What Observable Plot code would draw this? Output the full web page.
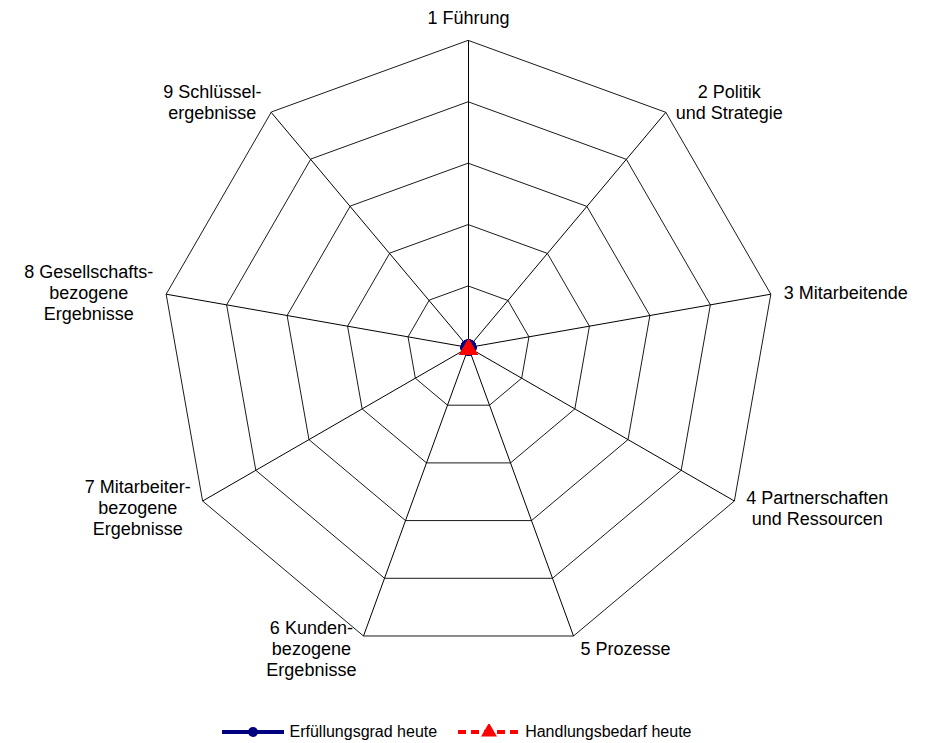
<!DOCTYPE html>
<html>
<head>
<meta charset="utf-8">
<script src="https://cdn.jsdelivr.net/npm/d3@7"></script>
<script src="https://cdn.jsdelivr.net/npm/@observablehq/plot@0.6"></script>
<style>
  html, body { margin: 0; padding: 0; background: #fff; }
  #chart svg { display: block; }
  .legend { display: flex; justify-content: center; align-items: center; height: 24px; margin-top: 8px; padding-right: 18px;
    font-family: "Liberation Sans", Arial, sans-serif; font-size: 16px; color: #000; }
  .legend .item { display: flex; align-items: center; }
  .legend svg { display: block; }
</style>
</head>
<body>
<div id="chart"></div>
<div class="legend" id="legend"></div>
<script>
// ---- data ----
const categories = [
  "1 Führung",
  "2 Politik\nund Strategie",
  "3 Mitarbeitende",
  "4 Partnerschaften\nund Ressourcen",
  "5 Prozesse",
  "6 Kunden-\nbezogene\nErgebnisse",
  "7 Mitarbeiter-\nbezogene\nErgebnisse",
  "8 Gesellschafts-\nbezogene\nErgebnisse",
  "9 Schlüssel-\nergebnisse"
];
const erfuellungsgrad = [0, 0, 0, 0, 0, 0, 0, 0, 0];
const handlungsbedarf = [0, 0, 0, 0, 0, 0, 0, 0, 0];
const ringLevels = [1, 2, 3, 4, 5];
const seriesNames = ["Erfüllungsgrad heute", "Handlungsbedarf heute"];

// ---- layout ----
const W = 932, H = 712;
const maxR = 5;
const cx = 468, cy = 347, R = 307;
const FONT = "'Liberation Sans', Arial, sans-serif";
const FS = 18;
const n = categories.length;
const angle = i => (2 * Math.PI * i) / n;
const pt = (r, i) => ({ x: r * Math.sin(angle(i)), y: r * Math.cos(angle(i)) });

const ringData = ringLevels.flatMap(lv => categories.map((c, i) => ({ ring: lv, ...pt(lv, i) })));
const spokeData = categories.map((c, i) => ({ x1: 0, y1: 0, x2: pt(maxR, i).x, y2: pt(maxR, i).y }));
const s1 = erfuellungsgrad.map((v, i) => ({ ...pt(v, i) }));
const s2 = handlungsbedarf.map((v, i) => ({ ...pt(v, i) }));

// text measuring
const ctx = document.createElement("canvas").getContext("2d");
ctx.font = `${FS}px ${FONT}`;
const blockWidth = s => Math.max(...s.split("\n").map(l => ctx.measureText(l).width));

const labelMarks = categories.map((c, i) => {
  const a = angle(i), sn = Math.sin(a), cs = Math.cos(a);
  const v = pt(maxR, i);
  const w = blockWidth(c);
  let dx, dy;
  if (Math.abs(sn) < 0.1) {
    dx = 0; dy = -23;
  } else {
    const gap = 4 + 9 * Math.abs(sn);
    dx = Math.sign(sn) * (gap + w / 2);
    dy = -13.5 * cs;
  }
  return Plot.text([{ x: v.x, y: v.y, t: c }], {
    x: "x", y: "y", text: "t", dx, dy,
    textAnchor: "middle", lineAnchor: "middle", lineHeight: 21 / FS,
    fontSize: FS, fontFamily: FONT, fill: "#000"
  });
});

const plot = Plot.plot({
  width: W, height: H,
  margin: 0,
  x: { domain: [-maxR, maxR], range: [cx - R, cx + R], axis: null },
  y: { domain: [-maxR, maxR], range: [cy + R, cy - R], axis: null },
  style: { fontFamily: FONT, background: "#fff" },
  marks: [
    Plot.line(ringData, { x: "x", y: "y", z: "ring", curve: "linear-closed", stroke: "#1a1a1a", strokeWidth: 1 }),
    Plot.link(spokeData, { x1: "x1", y1: "y1", x2: "x2", y2: "y2", stroke: "#000", strokeWidth: 1 }),
    Plot.line(s1, { x: "x", y: "y", curve: "linear-closed", stroke: "#000080", strokeWidth: 4 }),
    Plot.dot(s1, { x: "x", y: "y", r: 8, symbol: "circle", fill: "#000080", stroke: "none" }),
    Plot.line(s2, { x: "x", y: "y", curve: "linear-closed", stroke: "#ff0000", strokeWidth: 4, strokeDasharray: "8,5" }),
    Plot.dot(s2, { x: "x", y: "y", r: 6.8, symbol: "triangle", fill: "#ff0000", stroke: "none", dy: 2 }),
    ...labelMarks
  ]
});
document.getElementById("chart").appendChild(plot);

// ---- legend ----
const legend = d3.select("#legend");
const styles = [
  { color: "#000080", dash: null, symbol: d3.symbolCircle, size: Math.PI * 25, gapAfter: 21 },
  { color: "#ff0000", dash: "8,5", symbol: d3.symbolTriangle, size: 110, gapAfter: 0 }
];
seriesNames.forEach((name, k) => {
  const st = styles[k];
  const item = legend.append("div").attr("class", "item").style("margin-right", st.gapAfter + "px");
  const sw = item.append("svg").attr("width", 62).attr("height", 16);
  sw.append("line").attr("x1", 0).attr("x2", 62).attr("y1", 8).attr("y2", 8)
    .attr("stroke", st.color).attr("stroke-width", 4)
    .attr("stroke-dasharray", st.dash);
  sw.append("path").attr("d", d3.symbol(st.symbol, st.size)()).attr("transform", "translate(31,8)").attr("fill", st.color);
  item.append("span").text(name).style("margin-left", "5px");
});
</script>
</body>
</html>
